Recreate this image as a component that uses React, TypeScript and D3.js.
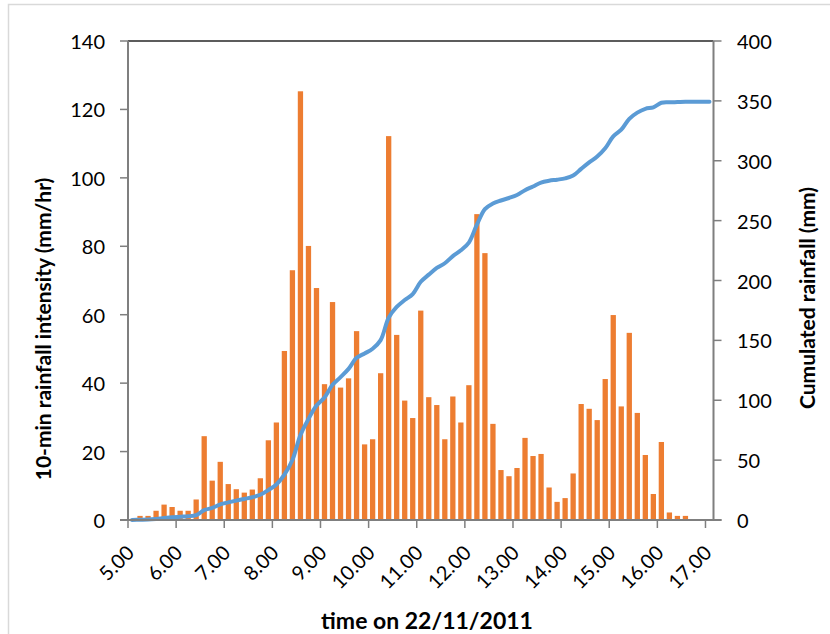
import React from "react";
import * as d3 from "d3";

// 10-min intervals from 5:00 to 17:00
const categories: string[] = d3.range(73).map((i) => {
  const m = 5 * 60 + i * 10;
  return `${Math.floor(m / 60)}:${String(m % 60).padStart(2, "0")}`;
});

// 10-min rainfall intensity (mm/hr)
const intensity: number[] = [
  0, 1.2, 1.2, 2.7, 4.5, 3.8, 2.7, 2.7, 6.0, 24.5,
  11.5, 17.0, 10.5, 9.0, 8.0, 8.9, 12.2, 23.3, 28.5, 49.4,
  73.0, 125.3, 80.1, 67.8, 39.7, 63.7, 38.7, 41.4, 55.2, 22.1,
  23.6, 42.9, 112.2, 54.1, 34.9, 29.8, 61.2, 35.9, 33.6, 23.6,
  36.1, 28.5, 39.4, 89.4, 78.0, 28.1, 14.6, 12.8, 15.2, 24.0,
  18.7, 19.3, 9.5, 5.3, 6.4, 13.6, 33.9, 32.5, 29.2, 41.2,
  59.9, 33.2, 54.7, 31.3, 19.0, 7.6, 22.8, 2.2, 1.2, 1.2,
  0, 0, 0,
];

// Cumulated rainfall (mm)
const cumulated: number[] = [
  0, 0.2, 0.4, 0.9, 1.6, 2.2, 2.7, 3.1, 4.1, 8.2,
  10.1, 13.0, 14.7, 16.2, 17.6, 19.0, 21.1, 25.0, 29.7, 37.9,
  50.1, 71.0, 84.3, 95.6, 102.3, 112.9, 119.3, 126.2, 135.4, 139.1,
  143.0, 150.2, 168.9, 177.9, 183.7, 188.7, 198.9, 204.9, 210.5, 214.4,
  220.4, 225.2, 231.7, 246.6, 259.6, 264.3, 266.8, 268.9, 271.4, 275.4,
  278.5, 281.8, 283.3, 284.2, 285.3, 287.6, 293.2, 298.6, 303.5, 310.4,
  320.3, 325.9, 335.0, 340.2, 343.4, 344.6, 348.4, 348.8, 349.0, 349.2,
  349.2, 349.2, 349.2,
];

const xTickLabels: string[] = [
  "5.00", "6.00", "7.00", "8.00", "9.00", "10.00", "11.00",
  "12.00", "13.00", "14.00", "15.00", "16.00", "17.00",
];
const leftTicks: number[] = [0, 20, 40, 60, 80, 100, 120, 140];
const rightTicks: number[] = [0, 50, 100, 150, 200, 250, 300, 350, 400];

const W = 830;
const H = 634;
const L = 128;
const R = 713.5;
const T = 41;
const B = 520;
const FONT = "Lato, 'Open Sans', sans-serif";

export default function App() {
  const pad = 0.34;
  const x = d3
    .scaleBand<number>()
    .domain(d3.range(categories.length))
    .range([L, R])
    .paddingInner(pad)
    .paddingOuter(pad / 2);
  const step = x.step();
  const edge = (i: number) => (x(i) as number) - (step - x.bandwidth()) / 2;
  const center = (i: number) => (x(i) as number) + x.bandwidth() / 2;

  const yL = d3.scaleLinear().domain([0, 140]).range([B, T]);
  const yR = d3.scaleLinear().domain([0, 400]).range([B, T]);

  const line = d3
    .line<number>()
    .x((_, i) => center(i))
    .y((d) => yR(d))
    .curve(d3.curveCatmullRom.alpha(0.5));

  const tickIdx = xTickLabels.map((_, k) => k * 6);

  return (
    <svg
      width={W}
      height={H}
      style={{ position: "absolute", left: 0, top: 0, background: "#fff" }}
      fontFamily={FONT}
    >
      <rect x={8.5} y={4.5} width={830} height={640} fill="#fff" stroke="#d9d9d9" strokeWidth={1.5} />

      {/* bars */}
      {intensity.map((v, i) => (
        <rect
          key={i}
          x={x(i)}
          y={yL(v)}
          width={x.bandwidth()}
          height={B - yL(v)}
          fill="#ed7d31"
        />
      ))}

      {/* cumulative line */}
      <path d={line(cumulated) || ""} fill="none" stroke="#5b9bd5" strokeWidth={4} strokeLinejoin="round" strokeLinecap="round" />

      {/* plot frame */}
      <line x1={L} x2={R} y1={T} y2={T} stroke="#262626" strokeWidth={1.5} />
      <line x1={L} x2={L} y1={T} y2={B} stroke="#7f7f7f" strokeWidth={2} />
      <line x1={R} x2={R} y1={T} y2={B} stroke="#7f7f7f" strokeWidth={2} />
      <line x1={L - 8} x2={R + 8} y1={B} y2={B} stroke="#7f7f7f" strokeWidth={2} />

      {/* left ticks */}
      {leftTicks.map((t) => (
        <g key={"l" + t}>
          <line x1={L - 8} x2={L} y1={yL(t)} y2={yL(t)} stroke="#7f7f7f" strokeWidth={1.5} />
          <text x={105} y={yL(t)} textAnchor="end" dominantBaseline="central" fontSize={20} fill="#000">
            {t}
          </text>
        </g>
      ))}

      {/* right ticks */}
      {rightTicks.map((t) => (
        <g key={"r" + t}>
          <line x1={R} x2={R + 8} y1={yR(t)} y2={yR(t)} stroke="#7f7f7f" strokeWidth={1.5} />
          <text x={737} y={yR(t)} textAnchor="start" dominantBaseline="central" fontSize={20} fill="#000">
            {t}
          </text>
        </g>
      ))}

      {/* x ticks */}
      {tickIdx.map((ci, k) => {
        const tx = edge(ci);
        return (
          <g key={"x" + k}>
            <line x1={tx} x2={tx} y1={B} y2={B + 8} stroke="#7f7f7f" strokeWidth={1.5} />
            <text
              transform={`translate(${tx + 7.5},${554}) rotate(-45)`}
              textAnchor="end"
              fontSize={20}
              fill="#000"
            >
              {xTickLabels[k]}
            </text>
          </g>
        );
      })}

      {/* axis titles */}
      <text x={427} y={629} textAnchor="middle" fontSize={23} fontWeight="bold" fill="#000">
        time on 22/11/2011
      </text>
      <text
        transform={`translate(51,329) rotate(-90)`}
        textAnchor="middle"
        fontSize={21}
        fontWeight="bold"
        fill="#000"
      >
        10-min rainfall intensity (mm/hr)
      </text>
      <text
        transform={`translate(815,298) rotate(-90)`}
        textAnchor="middle"
        fontSize={21}
        fontWeight="bold"
        fill="#000"
      >
        Cumulated rainfall (mm)
      </text>
    </svg>
  );
}
